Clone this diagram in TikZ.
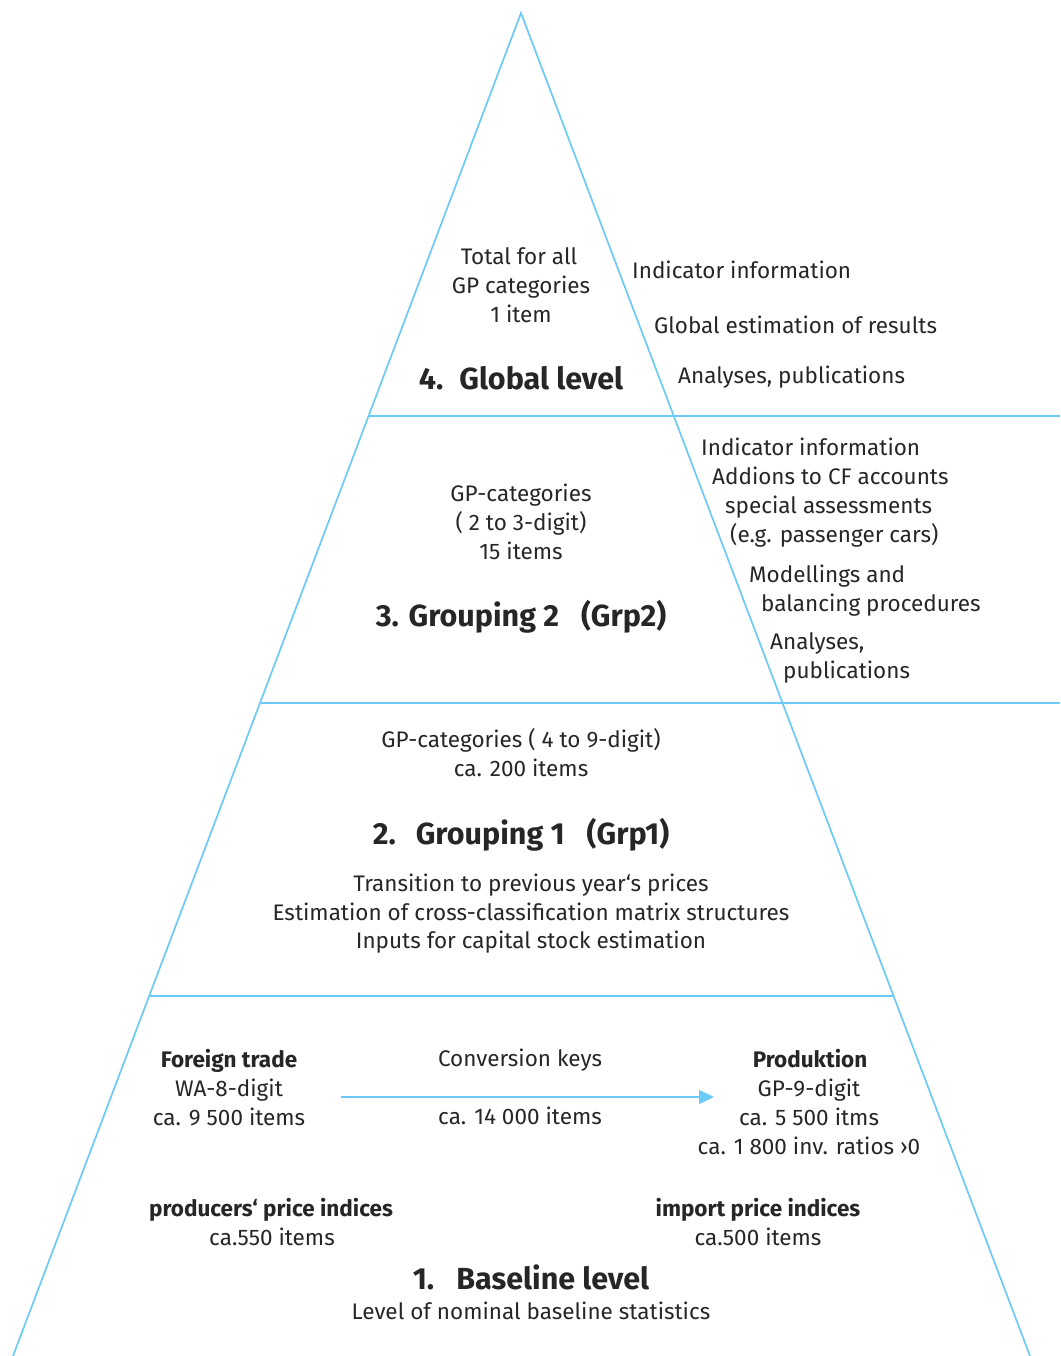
\documentclass[tikz,border=0pt]{standalone}
\usepackage{fontspec}
\setmainfont{Fira Sans}
\usetikzlibrary{arrows.meta}
\definecolor{pyr}{RGB}{108,202,248}
\definecolor{txt}{RGB}{38,38,38}

\begin{document}
\begin{tikzpicture}[x=1pt,y=-1pt,
  edge/.style={draw=pyr, line width=1.7pt},
  body/.style={inner sep=0pt, text=txt, anchor=base, font=\fontsize{22.5}{29}\selectfont},
  bodyl/.style={body, anchor=base west},
  bodyb/.style={body, font=\fontsize{22.5}{29}\selectfont\bfseries},
  title/.style={inner sep=0pt, text=txt, anchor=base, font=\fontsize{30.5}{34}\selectfont\bfseries}
]
\useasboundingbox (0,0) rectangle (1060,1356);

% pyramid outline
\coordinate (apex) at (521,13);
\coordinate (bl) at (13,1356);
\coordinate (br) at (1030,1356);
\draw[edge] (bl) -- (apex) -- (br);

% level separators
\coordinate (s4l) at (369,416);
\coordinate (s4r) at (1060,416);
\coordinate (s3l) at (261,703);
\coordinate (s3r) at (1060,703);
\coordinate (s2l) at (149,996);
\coordinate (s2r) at (893,996);
\draw[edge] (s4l) -- (s4r);
\draw[edge] (s3l) -- (s3r);
\draw[edge] (s2l) -- (s2r);

% 4. global level
\node[body] (g1) at (519,264) {Total for all};
\node[body] (g2) at (521,293) {GP categories};
\node[body] (g3) at (521,322) {1 item};
\node[title] (gt) at (521,389) {4.\hspace{16pt}Global level};
\node[bodyl] (gr1) at (632,278) {Indicator information};
\node[bodyl] (gr2) at (654,333) {Global estimation of results};
\node[bodyl] (gr3) at (678,383) {Analyses, publications};

% 3. grouping 2
\node[body] (p1) at (521,501) {GP-categories};
\node[body] (p2) at (521,530) {( 2 to 3-digit)};
\node[body] (p3) at (521,559) {15 items};
\node[title] (pt) at (521,626) {3. Grouping 2\hspace{22pt}(Grp2)};
\node[bodyl] (pr1) at (701,455) {Indicator information};
\node[bodyl] (pr2) at (712,484) {Addions to CF accounts};
\node[bodyl] (pr3) at (725,513) {special assessments};
\node[bodyl] (pr4) at (730,542) {(e.g. passenger cars)};
\node[bodyl] (pr5) at (749,582) {Modellings and};
\node[bodyl] (pr6) at (761,611) {balancing procedures};
\node[bodyl] (pr7) at (770,649) {Analyses,};
\node[bodyl] (pr8) at (783,678) {publications};

% 2. grouping 1
\node[body] (q1) at (521,747) {GP-categories ( 4 to 9-digit)};
\node[body] (q2) at (521,776) {ca. 200 items};
\node[title] (qt) at (521,844) {2.\hspace{20pt}Grouping 1\hspace{22pt}(Grp1)};
\node[body] (q3) at (531,891) {Transition to previous year‘s prices};
\node[body] (q4) at (531,920) {Estimation of cross-classification matrix structures};
\node[body] (q5) at (531,948) {Inputs for capital stock estimation};

% 1. baseline level
\node[bodyb] (f1) at (229,1067) {Foreign trade};
\node[body] (f2) at (229,1096) {WA-8-digit};
\node[body] (f3) at (229,1125) {ca. 9 500 items};
\node[body] (c1) at (520,1066) {Conversion keys};
\node[body] (c2) at (520,1124) {ca. 14 000 items};
\node[bodyb] (d1) at (810,1067) {Produktion};
\node[body] (d2) at (809,1096) {GP-9-digit};
\node[body] (d3) at (809,1125) {ca. 5 500\hspace{6pt}itms};
\node[body] (d4) at (809,1154) {ca. 1 800 inv. ratios ›0};
\coordinate (arrs) at (341,1097);
\coordinate (arre) at (714,1097);
\draw[draw=pyr, line width=1.3pt, -{Triangle[length=15pt,width=14pt]}] (arrs) -- (arre);
\node[bodyb] (e1) at (271,1216) {producers‘ price indices};
\node[body] (e2) at (272,1245) {ca.550 items};
\node[bodyb] (i1) at (758,1216) {import price indices};
\node[body] (i2) at (758,1245) {ca.500 items};
\node[title] (bt) at (531,1289) {1.\hspace{22pt}Baseline level};
\node[body] (b2) at (531,1319) {Level of nominal baseline statistics};
\end{tikzpicture}
\end{document}
